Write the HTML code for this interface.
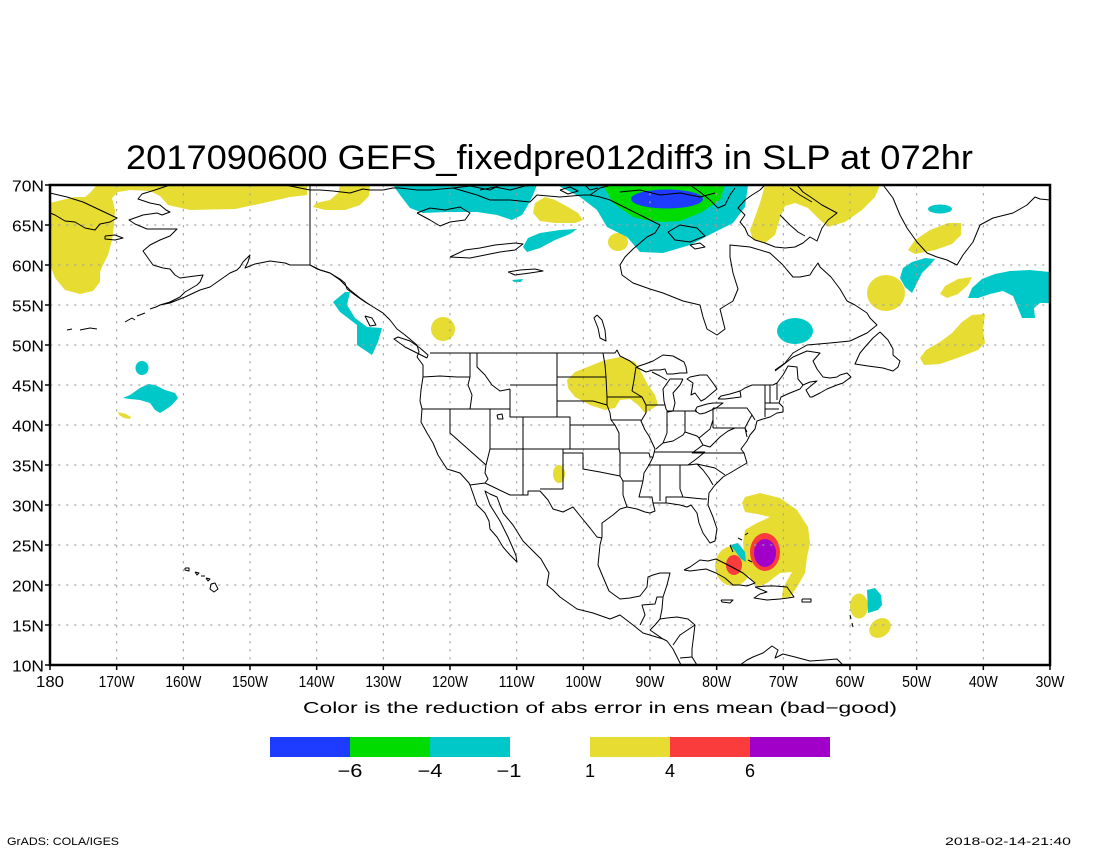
<!DOCTYPE html>
<html>
<head>
<meta charset="utf-8">
<style>
  html,body{margin:0;padding:0;background:#fff;}
  svg{display:block;}
  text{font-family:"Liberation Sans",sans-serif;fill:#000;}
</style>
</head>
<body>
<svg width="1100" height="850" viewBox="0 0 1100 850" xmlns="http://www.w3.org/2000/svg">
<rect x="0" y="0" width="1100" height="850" fill="#fff"/>

<!-- Title -->
<text x="126" y="169" font-size="34" textLength="847" lengthAdjust="spacingAndGlyphs">2017090600 GEFS_fixedpre012diff3 in SLP at 072hr</text>

<!-- ===== shaded fields ===== -->
<g stroke="none">
  <!-- yellow -->
  <g fill="#e6dc32">
    <polygon points="50,203 62,200 75,197 85,197 90,193 95,187 97,185 307,185 307,195 290,197 268,202 235,209 190,210 168,205 160,196 150,191 130,190 118,192 112,198 115,210 114,225 112,240 108,255 103,265 100,272 100,282 93,291 80,294 65,290 55,278 50,265"/>
    <polygon points="340,185 370,185 369,196 360,205 345,210 325,210 313,207 316,203 330,200 338,193"/>
    <polygon points="545,197 555,200 568,207 578,213 583,220 575,223 555,223 540,221 533,213 535,203"/>
    <ellipse cx="618" cy="242" rx="10" ry="9"/>
    <polygon points="765,185 880,185 875,197 862,210 845,222 828,227 818,218 808,208 795,203 785,206 780,218 775,235 765,243 753,240 750,230 755,217 760,203"/>
    <polygon points="961,223 948,223 930,230 915,240 908,250 915,254 935,250 952,244 961,235"/>
    <ellipse cx="886" cy="293" rx="19" ry="18"/>
    <polygon points="972,277 958,279 945,286 940,294 947,298 958,294 968,285"/>
    <polygon points="985,314 972,315 962,322 952,333 940,342 926,350 920,358 924,365 940,364 960,357 978,350 985,343 983,330"/>
    <circle cx="443" cy="329" r="12"/>
    <polygon points="575,372 590,366 605,360 620,357 635,362 640,370 648,385 655,395 658,405 650,410 645,413 638,405 630,399 620,400 615,408 605,410 590,405 575,397 568,388 567,380"/>
    <ellipse cx="559" cy="474" rx="6" ry="9"/>
    <polygon points="118,412 126,414 131,417 130,419 124,418 119,415"/>
    <polygon points="742,503 745,497 760,493 780,498 797,510 808,527 810,543 807,557 805,573 797,587 790,597 782,598 783,588 792,572 780,573 767,583 758,587 750,578 745,563 743,543 745,530 755,524 770,517 757,514 745,512"/>
    <ellipse cx="733" cy="566" rx="18" ry="20"/>
    <ellipse cx="859" cy="606" rx="9" ry="12.5"/>
    <ellipse cx="880" cy="628" rx="11.5" ry="9" transform="rotate(-35 880 628)"/>
  </g>
  <!-- cyan -->
  <g fill="#00c8c8">
    <polygon points="393,185 537,185 533,195 528,205 522,215 512,220 497,215 477,212 447,212 423,213 410,208 400,195"/>
    <polygon points="557,185 748,185 745,207 733,223 713,233 690,245 663,253 640,252 627,237 607,227 597,210 580,197"/>
    <polygon points="577,229 560,230 540,233 528,238 523,247 527,252 540,248 555,240 570,234"/>
    <polygon points="512,280 523,279 521,282 514,282"/>
    <ellipse cx="940" cy="209" rx="12" ry="4.5"/>
    <polygon points="935,259 925,258 912,262 903,268 900,278 905,287 912,293 916,285 922,273 930,265"/>
    <polygon points="968,298 972,288 982,279 995,274 1010,271 1030,270 1050,272 1050,303 1040,303 1034,308 1035,318 1022,318 1018,308 1013,296 1003,291 990,294 978,298"/>
    <ellipse cx="795" cy="331" rx="18" ry="13"/>
    <polygon points="345,292 333,302 340,312 357,325 357,345 372,355 378,342 382,328 367,327 355,318 347,305 350,292"/>
    <ellipse cx="142" cy="368" rx="6.5" ry="7"/>
    <polygon points="123,398 130,395 140,388 148,384 155,385 165,390 175,393 178,398 172,405 165,410 160,413 155,410 150,403 140,400 130,399"/>
    <polygon points="730,545 738,543 745,552 746,562 741,559 735,551"/>
    <polygon points="867,590 875,588 881,595 882,605 878,610 868,613"/>
  </g>
  <!-- green -->
  <polygon fill="#00dc00" points="603,185 725,185 720,200 700,213 680,221 663,222 645,220 633,217 613,203"/>
  <!-- blue -->
  <ellipse fill="#1e3cff" cx="667" cy="199" rx="36" ry="9.5"/>
  <!-- red -->
  <ellipse fill="#fa3c3c" cx="765" cy="552" rx="15" ry="19"/>
  <ellipse fill="#fa3c3c" cx="734" cy="565" rx="8" ry="10"/>
  <!-- purple -->
  <ellipse fill="#a000c8" cx="765" cy="553" rx="11" ry="14"/>
</g>

<!-- ===== grid ===== -->
<g stroke="#a0a0a0" stroke-width="1" stroke-dasharray="2.5,5.5" fill="none">
  <path d="M116.67 185V665 M183.33 185V665 M250 185V665 M316.67 185V665 M383.33 185V665 M450 185V665 M516.67 185V665 M583.33 185V665 M650 185V665 M716.67 185V665 M783.33 185V665 M850 185V665 M916.67 185V665 M983.33 185V665"/>
  <path d="M50 225H1050 M50 265H1050 M50 305H1050 M50 345H1050 M50 385H1050 M50 425H1050 M50 465H1050 M50 505H1050 M50 545H1050 M50 585H1050 M50 625H1050"/>
</g>

<!-- ===== coastlines / borders ===== -->
<g stroke="#000" stroke-width="1" fill="none" stroke-linejoin="round">
  <!-- Chukotka -->
  <polyline points="50,193 67,197 83,202 100,210 117,218 110,222 100,224 95,230 85,228 75,222 65,221 55,215 50,213"/>
  <polyline points="105,236 115,235 123,238 115,240 105,239 105,236"/>
  <!-- Alaska west/south + Pacific coast to Central America -->
  <polyline points="170,185 155,190 142,194 138,199 150,203 160,205 166,210 170,212 162,215 157,213 143,215 129,220 135,224 147,229 160,229 177,229 170,236 160,240 150,245 143,251 148,258 153,265 163,268 170,269 175,275 180,278 195,276 203,275 200,282 197,285 185,292 180,297 170,302 160,305 170,303 185,297 200,290 210,287 220,280 230,273 237,270 240,267 243,262 250,255 248,262 245,268 255,264 265,262 270,261 285,263 290,265 310,265 317,269 330,273 340,279 345,283 347,289 355,295 365,302 370,305 383,313 390,320 397,329 405,335 417,345 419,352 417,357 423,365 423,377 421,390 420,401 422,409 421,422 427,433 433,443 438,455 447,469 460,473 469,483 470,485 477,505 485,513 489,521 490,529 497,537 503,547 510,555 517,562 516,556 515,553 508,537 500,521 490,505 485,491 490,494 497,497 503,513 513,525 523,541 532,550 541,559 549,573 547,585 553,590 560,597 577,609 593,613 610,619 620,615 633,625 643,633 663,639 667,641 673,649 679,661 681,665"/>
  <!-- Aleutians -->
  <polyline points="67,330 72,329"/>
  <polyline points="80,330 90,328 97,329"/>
  <polyline points="125,322 132,318 135,320"/>
  <polyline points="137,316 145,313"/>
  <polyline points="150,309 156,307 160,305"/>
  <!-- Gulf & Atlantic coast -->
  <polyline points="697,665 692,657 692,649 693,641 695,625 688,619 677,617 667,618 660,619 662,609 663,597 667,585 670,573 660,573 653,575 648,577 647,587 640,596 630,598 620,599 609,591 603,577 598,565 600,545 602,537 602,523 613,515 620,509 627,507 637,509 645,512 650,513 655,511 653,503 660,503 667,503 680,505 687,507 691,505 697,513 699,523 703,533 710,543 715,541 716,535 717,529 713,517 708,505 709,493 715,485 723,477 730,473 740,467 747,463 744,453 741,449 747,441 750,435 755,429 757,421 763,419 770,417 777,413 783,412 783,407 779,403 781,397 790,393 800,389 803,385 810,382 817,381 812,385 806,390 810,397 812,397 820,393 827,389 837,385 843,383 851,377 847,373 840,375 837,377 830,378 823,377 817,369 813,361 820,353 807,351 793,357 783,365 775,371"/>
  <!-- St Lawrence north shore, Labrador, Hudson Bay, Arctic coast -->
  <polyline points="775,370 785,363 793,353 807,345 830,343 850,341 867,333 877,325 870,318 867,313 855,305 847,301 840,289 831,277 820,267 818,263 813,270 810,275 800,277 793,277 787,270 783,265 770,253 750,247 730,245 730,257 733,273 738,289 733,301 720,309 725,329 717,335 707,329 703,317 700,305 683,301 663,293 650,289 633,283 622,275 620,265 625,257 633,249 647,237 655,233 660,225 650,220 640,215 630,210 620,205 610,200 600,197 590,195 583,195 560,197 537,195 530,202 510,200 490,200 477,195 453,188 430,190 417,190 400,188 393,188 383,190 370,190 363,189 350,193 333,191 320,190 310,190 295,187 285,185"/>
  <!-- arctic islands -->
  <polyline points="668,232 680,225 697,228 705,236 690,242 675,240 668,232"/>
  <polyline points="690,245 700,243 705,247 695,249 690,245"/>
  <polyline points="590,195 600,188 612,185"/>
  <polyline points="453,188 470,186 490,190 500,185"/>
  <polyline points="480,190 495,187 510,190 525,186 535,185"/>
  <polyline points="560,190 570,187 578,191 568,194 560,190"/>
  <polyline points="585,185 590,190 598,188"/>
  <polyline points="620,192 640,190 660,195 680,193 700,197 715,193"/>
  <polyline points="690,185 700,192 710,200 718,208 725,205 730,195 735,188"/>
  <!-- Baffin -->
  <polyline points="797,185 803,192 812,198 822,205 837,213 828,220 822,228 817,241 810,237 803,243 795,247 785,248 775,247 765,243 755,240 748,235 745,228 740,222 745,215 738,208 745,200 752,195 760,190 765,185"/>
  <polyline points="780,215 790,225 798,232 805,236"/>
  <polyline points="790,188 800,195 812,202"/>
  <!-- Greenland -->
  <polyline points="883,185 893,198 900,215 907,228 917,242 927,253 937,257 947,260 957,265 963,255 973,242 980,225 993,218 1013,213 1027,205 1035,197 1040,199 1050,200"/>
  <!-- Newfoundland -->
  <polyline points="880,332 873,338 865,347 860,353 855,364 868,366 883,368 893,371 898,367 900,361 893,355 893,349 888,340 880,332"/>
  <!-- Vancouver Is, QC islands -->
  <polyline points="427,358 419,354 405,347 394,339 398,337 410,341 420,348 428,355 427,358"/>
  <polyline points="365,316 372,318 376,325 370,326 365,316"/>
  <!-- Alaska/Canada border -->
  <polyline points="310,185 310,265 320,270 330,273 340,280 350,290 360,298 370,305"/>
  <!-- Canadian lakes -->
  <polyline points="417,213 430,208 445,210 460,207 470,213 465,220 450,222 440,226 430,220 417,213"/>
  <polyline points="450,257 465,250 480,248 495,245 515,243 523,244 515,250 500,252 485,255 470,258 450,257"/>
  <polyline points="508,272 520,270 535,269 543,271 530,273 515,275 508,272"/>
  <polyline points="597,315 602,320 605,330 606,341 600,338 598,328 594,318 597,315"/>
  <!-- US/Canada border -->
  <polyline points="430,353 615,353 617,350 620,356 630,361 636,366"/>
  <polyline points="752,385 773,385 777,383 783,375 788,366 797,367 798,379 803,385"/>
  <polyline points="740,391 745,388 752,385"/>
  <!-- Great Lakes -->
  <polyline points="636,367 645,364 653,361 663,355 673,356 684,362 686,367 687,373 680,373 673,374 667,374 665,369 660,370 653,370 646,372 636,367"/>
  <polyline points="683,379 676,379 670,379 663,389 664,401 666,409 668,412 673,411 675,403 673,393 680,385 683,379"/>
  <polyline points="690,377 700,375 707,375 713,383 717,389 705,399 701,401 695,393 691,395 693,383 687,379 690,377"/>
  <polyline points="697,407 695,411 700,414 705,413 716,408 723,403 713,403 707,404 697,407"/>
  <polyline points="718,399 721,396 730,394 740,391 741,397 733,398 725,399 718,399"/>
  <polyline points="497,415 502,414 503,419 498,419 497,415"/>
  <!-- US states -->
  <path d="M423 377 L440 376 L457 377 L470 377
    M470 353 L470 377 M470 377 L468 385 L472 395 L470 409
    M422 409 L510 409
    M450 409 L450 433 L486 465 L485 473 L488 479 L485 483
    M490 409 L490 449 L486 465
    M470 485 L485 483 L510 495 L528 495 L528 491 L540 491 L548 500 L553 509 L563 512 L573 507 L581 517 L590 528 L597 537 L602 538
    M477 353 L477 367 L485 375 L492 385 L500 391 L510 389
    M510 385 L557 385
    M510 389 L510 417 L523 417 L523 495
    M523 417 L570 417 L570 449
    M570 425 L615 425
    M557 353 L557 417
    M490 449 L619 449
    M563 449 L563 489 M540 489 L563 489
    M563 453 L583 453 L583 469 L600 472 L620 476
    M557 377 L606 377
    M557 401 L593 401 L600 403 L607 405
    M603 353 L605 365 L606 377 L607 397
    M607 397 L642 397
    M607 397 L607 405 L610 413 L611 420 L615 425
    M611 420 L641 420
    M615 425 L619 433 L619 449
    M619 449 L620 453 L620 476
    M620 453 L649 453 L650 457 L653 457
    M620 476 L623 481 L623 495 L627 507
    M623 481 L643 481
    M643 481 L640 493 L639 497 L652 497 L653 503
    M660 465 L660 501
    M648 465 L688 465
    M680 465 L680 489 L683 497
    M666 503 L666 497 L683 497 L703 499 L707 499
    M632 391 L642 397 L646 405 L646 413 L641 421 L645 430 L649 436 L655 449 L653 457 L649 465 L644 473 L643 481
    M636 367 L634 380 L632 391
    M652 372 L660 376 L667 380
    M646 405 L665 405
    M667 411 L667 433 L663 443
    M656 449 L663 443 L673 441 L683 435 L685 432 L697 436 L699 438 L710 429 L713 420
    M685 411 L685 432
    M667 411 L697 411
    M713 408 L713 420 L713 428
    M713 428 L745 428
    M699 438 L703 445 L710 447 L715 442 L720 437 L728 431 L735 428
    M654 452 L705 452
    M692 453 L703 445
    M692 453 L744 453
    M705 452 L695 460 L688 465
    M688 465 L697 464 L706 466 L715 468 L725 475
    M697 464 L703 470 L709 478 L713 485
    M713 408 L747 408 L752 415 L755 420
    M752 415 L748 422 L745 428 L747 432
    M745 428 L747 437
    M765 385 L765 403 L765 417
    M770 385 L770 403
    M765 409 L779 409
    M765 403 L779 403
    M777 383 L777 400"/>
  <!-- Central America borders -->
  <path d="M640 625 L645 615 L642 605 L655 604 L657 597 L663 597 M660 619 L655 625 L650 630 M650 630 L663 639 M695 625 L680 635 L673 645 M692 657 L680 658"/>
  <!-- Caribbean -->
  <polyline points="684,570 690,567 700,560 708,561 716,559 730,566 743,573 755,583 747,586 740,585 733,585 725,578 716,573 706,569 690,571 684,570"/>
  <polyline points="755,587 767,586 775,586 787,587 794,597 788,598 780,599 767,600 754,598 760,594 767,592 755,587"/>
  <polyline points="721,600 733,600 730,603 722,602 721,600"/>
  <polyline points="802,599 811,599 811,602 802,602 802,599"/>
  <polyline points="730,545 733,552"/>
  <polyline points="738,538 742,540"/>
  <polyline points="748,560 752,562"/>
  <polyline points="745,535 748,533"/>
  <polyline points="850,615 851,619"/>
  <polyline points="852,623 853,627"/>
  <!-- South America -->
  <polyline points="740,665 747,660 753,657 763,653 772,646 778,650 775,658 783,654 795,657 810,661 825,660 837,659 843,665"/>
  <!-- Hawaii -->
  <polyline points="185,568 189,568 189,571 185,570 185,568"/>
  <polyline points="195,572 199,573 197,575 195,572"/>
  <polyline points="201,576 205,576"/>
  <polyline points="206,578 210,579 208,581 206,578"/>
  <polyline points="211,584 215,583 218,589 214,592 210,589 211,584"/>
</g>

<!-- ===== frame & ticks ===== -->
<rect x="50" y="185" width="1000" height="480" fill="none" stroke="#000" stroke-width="2.5"/>
<path stroke="#000" stroke-width="1.5" fill="none" d="M45 185H50 M45 225H50 M45 265H50 M45 305H50 M45 345H50 M45 385H50 M45 425H50 M45 465H50 M45 505H50 M45 545H50 M45 585H50 M45 625H50 M45 665H50
  M50 665V670 M116.67 665V670 M183.33 665V670 M250 665V670 M316.67 665V670 M383.33 665V670 M450 665V670 M516.67 665V670 M583.33 665V670 M650 665V670 M716.67 665V670 M783.33 665V670 M850 665V670 M916.67 665V670 M983.33 665V670 M1050 665V670"/>

<!-- ===== axis labels ===== -->
<g font-size="16" text-anchor="end">
  <text x="44" y="191.5" textLength="32" lengthAdjust="spacingAndGlyphs">70N</text>
  <text x="44" y="231.5" textLength="32" lengthAdjust="spacingAndGlyphs">65N</text>
  <text x="44" y="271.5" textLength="32" lengthAdjust="spacingAndGlyphs">60N</text>
  <text x="44" y="311.5" textLength="32" lengthAdjust="spacingAndGlyphs">55N</text>
  <text x="44" y="351.5" textLength="32" lengthAdjust="spacingAndGlyphs">50N</text>
  <text x="44" y="391.5" textLength="32" lengthAdjust="spacingAndGlyphs">45N</text>
  <text x="44" y="431.5" textLength="32" lengthAdjust="spacingAndGlyphs">40N</text>
  <text x="44" y="471.5" textLength="32" lengthAdjust="spacingAndGlyphs">35N</text>
  <text x="44" y="511.5" textLength="32" lengthAdjust="spacingAndGlyphs">30N</text>
  <text x="44" y="551.5" textLength="32" lengthAdjust="spacingAndGlyphs">25N</text>
  <text x="44" y="591.5" textLength="32" lengthAdjust="spacingAndGlyphs">20N</text>
  <text x="44" y="631.5" textLength="32" lengthAdjust="spacingAndGlyphs">15N</text>
  <text x="44" y="671.5" textLength="32" lengthAdjust="spacingAndGlyphs">10N</text>
</g>
<g font-size="16" text-anchor="middle">
  <text x="50" y="687" textLength="28" lengthAdjust="spacingAndGlyphs">180</text>
  <text x="116.67" y="687" textLength="36" lengthAdjust="spacingAndGlyphs">170W</text>
  <text x="183.33" y="687" textLength="36" lengthAdjust="spacingAndGlyphs">160W</text>
  <text x="250" y="687" textLength="36" lengthAdjust="spacingAndGlyphs">150W</text>
  <text x="316.67" y="687" textLength="36" lengthAdjust="spacingAndGlyphs">140W</text>
  <text x="383.33" y="687" textLength="36" lengthAdjust="spacingAndGlyphs">130W</text>
  <text x="450" y="687" textLength="36" lengthAdjust="spacingAndGlyphs">120W</text>
  <text x="516.67" y="687" textLength="36" lengthAdjust="spacingAndGlyphs">110W</text>
  <text x="583.33" y="687" textLength="36" lengthAdjust="spacingAndGlyphs">100W</text>
  <text x="650" y="687" textLength="29" lengthAdjust="spacingAndGlyphs">90W</text>
  <text x="716.67" y="687" textLength="29" lengthAdjust="spacingAndGlyphs">80W</text>
  <text x="783.33" y="687" textLength="29" lengthAdjust="spacingAndGlyphs">70W</text>
  <text x="850" y="687" textLength="29" lengthAdjust="spacingAndGlyphs">60W</text>
  <text x="916.67" y="687" textLength="29" lengthAdjust="spacingAndGlyphs">50W</text>
  <text x="983.33" y="687" textLength="29" lengthAdjust="spacingAndGlyphs">40W</text>
  <text x="1050" y="687" textLength="29" lengthAdjust="spacingAndGlyphs">30W</text>
</g>

<!-- colorbar caption -->
<text x="303" y="713" font-size="15.5" textLength="594" lengthAdjust="spacingAndGlyphs">Color is the reduction of abs error in ens mean (bad−good)</text>

<!-- colorbar -->
<rect x="270" y="737" width="80" height="20" fill="#1e3cff"/>
<rect x="350" y="737" width="80" height="20" fill="#00dc00"/>
<rect x="430" y="737" width="80" height="20" fill="#00c8c8"/>
<rect x="590" y="737" width="80" height="20" fill="#e6dc32"/>
<rect x="670" y="737" width="80" height="20" fill="#fa3c3c"/>
<rect x="750" y="737" width="80" height="20" fill="#a000c8"/>
<g font-size="18" text-anchor="middle">
  <text x="350" y="777" textLength="25" lengthAdjust="spacingAndGlyphs">−6</text>
  <text x="430" y="777" textLength="25" lengthAdjust="spacingAndGlyphs">−4</text>
  <text x="509" y="777" textLength="25" lengthAdjust="spacingAndGlyphs">−1</text>
  <text x="590" y="777">1</text>
  <text x="670" y="777">4</text>
  <text x="750" y="777">6</text>
</g>

<!-- footer -->
<text x="7" y="845" font-size="11" textLength="112" lengthAdjust="spacingAndGlyphs">GrADS: COLA/IGES</text>
<text x="945" y="845" font-size="11" textLength="126" lengthAdjust="spacingAndGlyphs">2018-02-14-21:40</text>
</svg>
</body>
</html>
